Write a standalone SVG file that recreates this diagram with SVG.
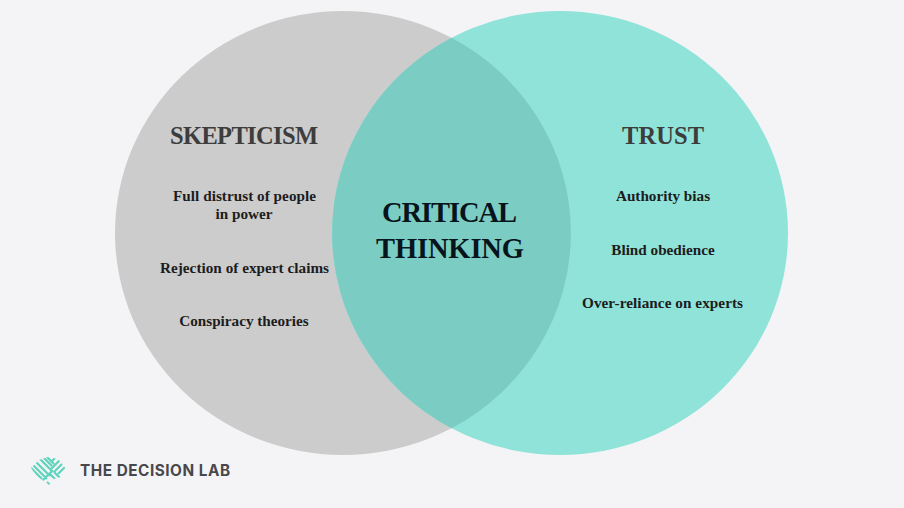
<svg xmlns="http://www.w3.org/2000/svg" width="904" height="508" viewBox="0 0 904 508">
<defs><clipPath id="brain"><path d="M31 468L39 460L48 457L58 459L66 469L61 477L54 479L49 485L44 481L37 477Z"/></clipPath></defs>
<style>
.t{font-family:"Liberation Serif","Times New Roman",serif;font-weight:700;text-anchor:middle}
.h{font-size:24.500px;fill:#3d3d3d}
.b{font-size:15.200px;fill:#1c1c20}
.c{font-size:28.500px;fill:#07141c}
.s{stroke:#5fd3bd;stroke-width:2.200;fill:none}
</style>
<rect width="904" height="508" fill="#f4f4f6"/>
<g id="skepticism"><ellipse cx="343" cy="233" rx="228" ry="222" fill="#cccccc"/></g>
<g id="trust"><ellipse cx="560" cy="233" rx="228" ry="222" fill="#90e3d8"/></g>
<g id="critical-thinking">
<path d="M451.500 37.800A228 222 0 0 1 451.500 428.200A228 222 0 0 1 451.500 37.800Z" fill="#7bccc2"/>
<text class="t c" x="449.500" y="222" textLength="135">CRITICAL</text>
<text class="t c" x="450" y="258" textLength="148">THINKING</text>
</g>
<g id="skepticism-text">
<text class="t h" x="244" y="144" textLength="148">SKEPTICISM</text>
<text class="t b" x="244.500" y="201" textLength="143">Full distrust of people</text>
<text class="t b" x="244" y="219">in power</text>
<text class="t b" x="244.500" y="272.500" textLength="169">Rejection of expert claims</text>
<text class="t b" x="244" y="326">Conspiracy theories</text>
</g>
<g id="trust-text">
<text class="t h" x="663" y="144" textLength="82">TRUST</text>
<text class="t b" x="663" y="201">Authority bias</text>
<text class="t b" x="663" y="254.500">Blind obedience</text>
<text class="t b" x="662.500" y="308" textLength="161">Over-reliance on experts</text>
</g>
<g id="logo">
<g clip-path="url(#brain)"><path class="s" d="M30 462L47 479M30 467L42 479M33 459L50 476M37 456L53 472M41 455L52 466M45 455L54 464M47 482L50 485M50 474L63 487M54 472L66 484M50 470L64 456M54 472L68 458M58 474L68 464M63 476L68 471M51 462L58 455M41 482L52 471"/></g>
<text x="80" y="475.500" font-family="Inter,'Liberation Sans',sans-serif" font-weight="700" font-size="15.300" textLength="150" fill="#48484c">THE DECISION LAB</text>
</g>
</svg>
